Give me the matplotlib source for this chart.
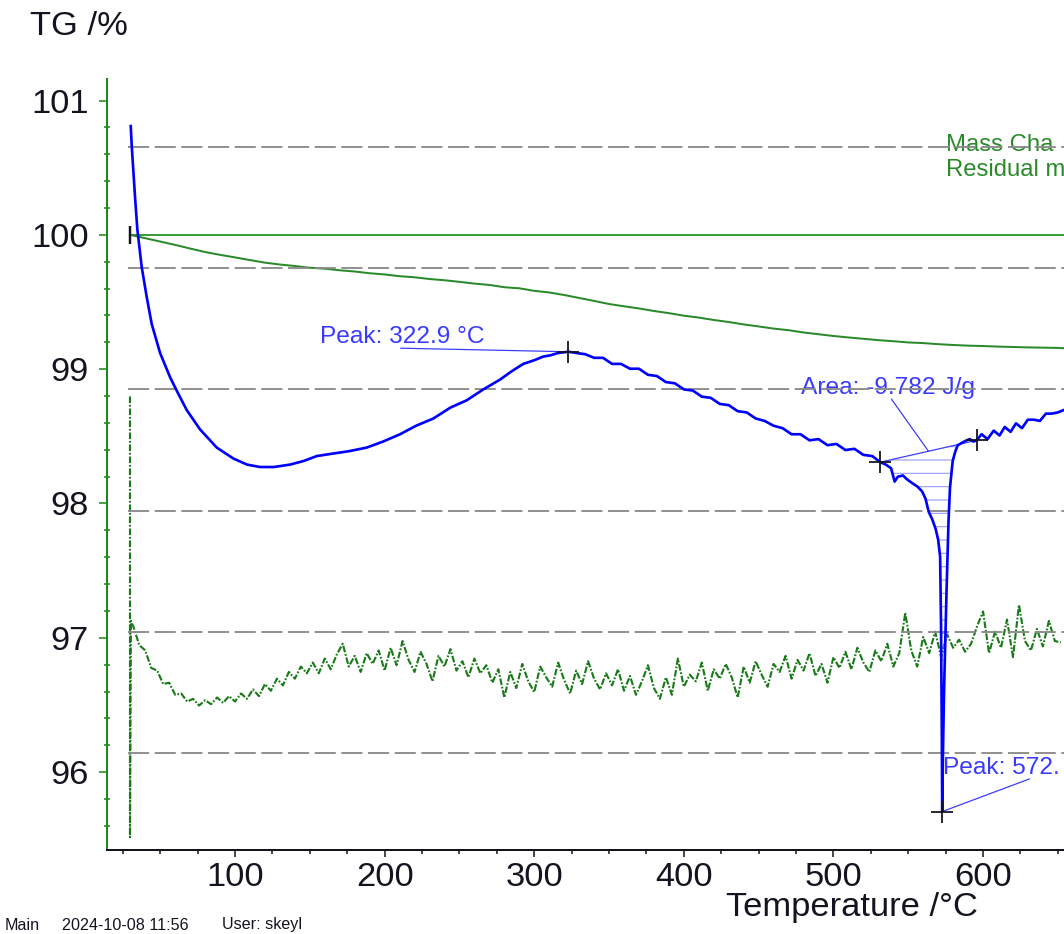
import matplotlib
matplotlib.use('Agg')
import matplotlib.pyplot as plt
import numpy as np
from matplotlib.ticker import MultipleLocator

plt.rcParams['font.family'] = ['Liberation Sans', 'DejaVu Sans']
plt.rcParams['lines.scale_dashes'] = False
plt.rcParams['hatch.linewidth'] = 1.0

# TG curve: mass in % against temperature
tg_temp = [29.8, 40, 50, 60, 70, 80, 90, 100, 110, 120, 130, 140, 150, 160,
           170, 180, 190, 200, 210, 220, 230, 240, 250, 260, 270, 280, 290,
           300, 310, 320, 330, 340, 350, 360, 370, 380, 390, 400, 410, 420,
           430, 440, 450, 460, 470, 480, 490, 500, 510, 520, 530, 540, 550,
           560, 570, 580, 590, 600, 610, 620, 630, 640, 650, 654]
tg_mass = [100.00, 99.975, 99.950, 99.925, 99.898, 99.872, 99.851, 99.832,
           99.812, 99.793, 99.779, 99.768, 99.755, 99.748, 99.736, 99.727,
           99.714, 99.705, 99.692, 99.684, 99.671, 99.662, 99.650, 99.637,
           99.627, 99.610, 99.602, 99.583, 99.571, 99.552, 99.530, 99.508,
           99.485, 99.468, 99.452, 99.433, 99.417, 99.398, 99.384, 99.366,
           99.351, 99.333, 99.318, 99.302, 99.290, 99.273, 99.260, 99.247,
           99.236, 99.226, 99.216, 99.208, 99.199, 99.194, 99.186, 99.180,
           99.175, 99.172, 99.168, 99.165, 99.162, 99.160, 99.158, 99.156]

# DSC curve (hidden right axis, mW/mg)
dsc_temp = [30.3, 31.0, 33.2, 34.7, 37.6, 41.0, 44.3, 49.9, 56.6, 61.0, 67.7,
            76.6, 87.8, 98.9, 108, 116.7, 126, 136.8, 146, 154.6, 165, 176,
            188, 199, 210.3, 221, 232.6, 244, 254.9, 266, 277.1, 285, 292.7,
            300, 306, 310.6, 316, 322.9, 328, 334, 340, 346, 352, 358, 364,
            370, 376, 382, 388, 394, 400, 406, 412, 418, 424, 430, 436, 442,
            448, 454, 460, 466, 472, 478, 484, 490, 496, 502, 508, 514, 520,
            526, 531.3, 535, 538.5, 540.9, 543, 546.5, 549, 552.3, 556, 559.2,
            561.5, 563.7, 566, 568.3, 570, 571.3, 571.9, 572.4, 572.7, 573.2,
            573.9, 574.8, 575.6, 576.9, 577.9, 579.7, 581.5, 583.1, 586, 589,
            591.1, 593.5, 595.7, 599, 603, 607.1, 611, 614.5, 618.4, 622, 626,
            629.9, 634, 638, 642, 646, 650, 654]
dsc_val = [0.517, 0.500, 0.458, 0.432, 0.401, 0.376, 0.354, 0.330, 0.310,
           0.299, 0.283, 0.267, 0.252, 0.243, 0.238, 0.236, 0.236, 0.238,
           0.241, 0.245, 0.247, 0.249, 0.252, 0.257, 0.263, 0.270, 0.276,
           0.285, 0.291, 0.300, 0.308, 0.315, 0.321, 0.324, 0.327, 0.328,
           0.330, 0.331, 0.330, 0.329, 0.326, 0.326, 0.321, 0.321, 0.317,
           0.317, 0.312, 0.311, 0.306, 0.305, 0.300, 0.299, 0.294, 0.293,
           0.288, 0.287, 0.282, 0.281, 0.276, 0.274, 0.270, 0.268, 0.263,
           0.263, 0.258, 0.259, 0.254, 0.255, 0.250, 0.251, 0.246, 0.245,
           0.240, 0.238, 0.235, 0.224, 0.228, 0.229, 0.226, 0.223, 0.220,
           0.216, 0.210, 0.199, 0.193, 0.185, 0.176, 0.162, 0.106, 0.022,
           -0.048, 0.000, 0.050, 0.095, 0.134, 0.191, 0.219, 0.241, 0.249,
           0.254, 0.256, 0.258, 0.259, 0.257, 0.258, 0.263, 0.259, 0.266,
           0.262, 0.269, 0.265, 0.272, 0.268, 0.275, 0.275, 0.274, 0.280,
           0.280, 0.281, 0.283]

# DTG curve (hidden axis, %/min): start transient, then every 4 degC
dtg_start_temp = [29.8, 29.8, 30.4]
dtg_start_val = [0.179, -0.149, 0.012]
dtg_grid_temp = np.arange(32, 653, 4)
dtg_grid_val = [
    0.008, -0.006, -0.010, -0.023, -0.025, -0.035, -0.034, -0.043, -0.042, -0.048,
    -0.046, -0.051, -0.047, -0.050, -0.045, -0.049, -0.044, -0.048, -0.042, -0.046,
    -0.039, -0.044, -0.035, -0.040, -0.031, -0.036, -0.026, -0.031, -0.022, -0.027,
    -0.019, -0.027, -0.016, -0.024, -0.013, -0.005, -0.022, -0.014, -0.026, -0.012,
    -0.020, -0.010, -0.025, -0.008, -0.021, -0.003, -0.017, -0.026, -0.011, -0.020,
    -0.033, -0.014, -0.022, -0.009, -0.025, -0.018, -0.030, -0.016, -0.027, -0.021,
    -0.034, -0.024, -0.045, -0.026, -0.038, -0.020, -0.033, -0.041, -0.022, -0.030,
    -0.037, -0.019, -0.032, -0.042, -0.025, -0.035, -0.018, -0.031, -0.039, -0.027,
    -0.036, -0.024, -0.040, -0.029, -0.043, -0.033, -0.021, -0.038, -0.046, -0.030,
    -0.043, -0.016, -0.037, -0.028, -0.033, -0.019, -0.040, -0.024, -0.031, -0.020,
    -0.030, -0.045, -0.022, -0.034, -0.018, -0.028, -0.037, -0.020, -0.026, -0.014,
    -0.031, -0.017, -0.025, -0.012, -0.029, -0.020, -0.034, -0.015, -0.023, -0.011,
    -0.024, -0.008, -0.019, -0.026, -0.010, -0.018, -0.005, -0.022, -0.012, 0.018,
    -0.010, -0.022, 0.000, -0.012, 0.004, -0.015, 0.002, -0.008, -0.002, -0.011,
    -0.005, 0.008, 0.019, -0.012, 0.004, -0.008, 0.013, -0.015, 0.024, -0.003,
    -0.010, 0.006, -0.007, 0.012, -0.003, -0.004]

dsc_grid = [0.0, 0.1, 0.2, 0.3, 0.4, 0.5]

# evaluated points (temperatures as found in dsc_temp)
peak1_T = 322.9
peak2_T = 572.7
area_left_T = 531.3
area_right_T = 595.7

# labels as far as they are visible in the cropped screenshot
peak1_label = 'Peak: 322.9 \u00b0C'
peak2_label = 'Peak: 572.'
area_label = 'Area: -9.782 J/g'
mass_label = 'Mass Cha'
resid_label = 'Residual m'

T_MIN, T_MAX = 14.6, 654.1
GREEN_AX = '#1a8a1a'
BLUE = '#0000ff'
BLUE_TXT = '#3a3aff'
INK = '#141420'

fig = plt.figure(figsize=(13.3, 11.675), dpi=80, facecolor='white')
ax = fig.add_axes([0.1008, 0.0899, 0.8992, 0.8255])
ax_dtg = ax.twinx()
ax_dsc = ax.twinx()

# --- TG axis (the only visible one) ---
ax.set_xlim(T_MIN, T_MAX)
ax.set_ylim(95.42, 101.16)
for side in ('top', 'right'):
    ax.spines[side].set_visible(False)
ax.spines['left'].set_color(GREEN_AX)
ax.spines['left'].set_linewidth(1.8)
ax.spines['bottom'].set_color(INK)
ax.spines['bottom'].set_linewidth(1.8)

ax.xaxis.set_major_locator(MultipleLocator(100))
ax.xaxis.set_minor_locator(MultipleLocator(25))
ax.yaxis.set_major_locator(MultipleLocator(1))
ax.yaxis.set_minor_locator(MultipleLocator(0.2))
ax.tick_params(axis='y', which='major', direction='out', length=7.5,
               width=1.4, color=GREEN_AX, labelsize=31, labelcolor=INK,
               pad=9)
ax.tick_params(axis='y', which='minor', direction='inout', length=5.5,
               width=1.4, color=GREEN_AX)
ax.tick_params(axis='x', which='major', direction='out', length=6.5,
               width=1.4, color=INK, labelsize=31, labelcolor=INK, pad=4)
ax.tick_params(axis='x', which='minor', direction='out', length=3.5,
               width=1.4, color=INK)

ax.set_xlabel('Temperature /\u00b0C', fontsize=31, color=INK)
ax.xaxis.label.set_va('center')
ax.xaxis.set_label_coords(0.778, -0.075)

# TG reference line at the start mass, and the TG curve
ax.hlines(tg_mass[0], tg_temp[0], T_MAX + 100, color='#3aa03a', lw=1.8,
          zorder=2)
ax.plot(tg_temp, tg_mass, color='#2a8a2a', lw=1.8, zorder=3)
ax.plot(tg_temp[0], tg_mass[0], marker='|', ms=16, mew=2.2, color=INK,
        ls='none', zorder=4)

ax.text(575.3, 100.67, mass_label, color='#2a8a2a', fontsize=21.5,
        ha='left', va='center')
ax.text(575.3, 100.48, resid_label, color='#2a8a2a', fontsize=21.5,
        ha='left', va='center')

# --- DTG (hidden scale) ---
ax_dtg.set_ylim(-0.1585, 0.4152)
ax_dtg.axis('off')
dtg_T = np.concatenate([dtg_start_temp, dtg_grid_temp])
dtg_v = np.concatenate([dtg_start_val, dtg_grid_val])
ax_dtg.plot(dtg_T, dtg_v, color='#1a7a1a', lw=1.9,
            ls=(0, (6, 1.6, 1.6, 1.6)))

# --- DSC (hidden scale), its grid lines and evaluations ---
ax_dsc.set_ylim(-0.0797, 0.5558)
ax_dsc.set_xlim(T_MIN, T_MAX)
ax_dsc.axis('off')
ax_dsc.hlines(dsc_grid, 28.5, T_MAX + 100, color='#8c8c8c', lw=1.7,
              linestyles=[(0, (19, 5))], zorder=1)

ax_dsc.plot(dsc_temp, dsc_val, color=BLUE, lw=2.4, zorder=4)

i_p1 = dsc_temp.index(peak1_T)
i_p2 = dsc_temp.index(peak2_T)
i_l = dsc_temp.index(area_left_T)
i_r = dsc_temp.index(area_right_T)

seg_T = np.array(dsc_temp[i_l:i_r + 1])
seg_v = np.array(dsc_val[i_l:i_r + 1])
seg_base = np.interp(seg_T, [dsc_temp[i_l], dsc_temp[i_r]],
                     [dsc_val[i_l], dsc_val[i_r]])
ax_dsc.fill_between(seg_T, seg_v, seg_base, facecolor='none',
                    edgecolor='#9a9aff', hatch='-', linewidth=0, zorder=2)
ax_dsc.plot([dsc_temp[i_l], dsc_temp[i_r]], [dsc_val[i_l], dsc_val[i_r]],
            color=BLUE_TXT, lw=1.1, zorder=3)

for i in (i_p1, i_l, i_r, i_p2):
    ax_dsc.plot(dsc_temp[i], dsc_val[i], marker='+', ms=19, mew=1.6,
                color=INK, ls='none', zorder=6)

mid_T = 0.5 * (dsc_temp[i_l] + dsc_temp[i_r])
mid_v = 0.5 * (dsc_val[i_l] + dsc_val[i_r])

leader = dict(arrowstyle='-', color=BLUE_TXT, lw=1.1, shrinkA=0, shrinkB=0,
              patchA=None)
ax_dsc.annotate(peak1_label, xy=(dsc_temp[i_p1], dsc_val[i_p1]),
                xytext=(156.8, 0.343), color=BLUE_TXT, fontsize=22,
                ha='left', va='center', zorder=0.5,
                arrowprops=dict(leader, relpos=(0.49, 0.0)))
ax_dsc.annotate(area_label, xy=(mid_T, mid_v),
                xytext=(478.3, 0.301), color=BLUE_TXT, fontsize=22,
                ha='left', va='center', zorder=0.5,
                arrowprops=dict(leader, relpos=(0.52, 0.0)))
ax_dsc.annotate(peak2_label, xy=(dsc_temp[i_p2], dsc_val[i_p2]),
                xytext=(573.3, -0.012), color=BLUE_TXT, fontsize=22,
                ha='left', va='center', zorder=0.5,
                arrowprops=dict(leader, relpos=(0.74, 0.0)))

# --- page texts ---
fig.text(0.028, 0.972, 'TG /%', fontsize=31, color=INK, ha='left',
         va='center')
fig.text(5 / 1064, 1 - 925 / 934, 'Main', fontsize=14.5, color=INK,
         ha='left', va='center')
fig.text(62 / 1064, 1 - 925 / 934, '2024-10-08 11:56', fontsize=14.5,
         color=INK, ha='left', va='center')
fig.text(222 / 1064, 1 - 925 / 934, 'User: skeyl', fontsize=14.5, color=INK,
         ha='left', va='center')

fig.savefig('out.png', dpi=80, facecolor='white')
